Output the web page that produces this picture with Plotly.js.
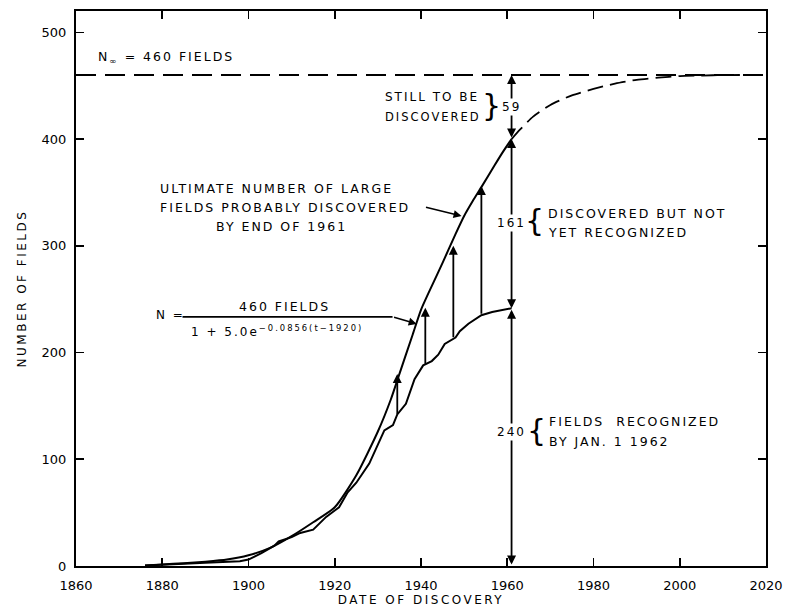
<!DOCTYPE html>
<html>
<head>
<meta charset="utf-8">
<script src="https://cdn.plot.ly/plotly-3.0.1.min.js"></script>
<style>
  html, body { margin: 0; padding: 0; background: #fff; }
  #chart { width: 785px; height: 610px; }
  .annotation-text { letter-spacing: 2px; }
  .xtitle, .ytitle { letter-spacing: 2.5px; }
</style>
</head>
<body>
<div id="chart"></div>
<script>
// Logistic curve as drawn (solid part, up to end of 1961)
const fitYears = [1876,1880,1885,1890,1895,1900,1905,1910,1915,1920,1925,1930,1933,1935,1938,1940,1942,1945,1948,1950,1952,1954,1957,1959,1961];
const fitValues = [0.5,1.5,2.5,4,6,10,17,28,41,55,85,126,156,180,216,240,258,284,311,328,342,355,375,388,400];

// Projected (dashed) part of the logistic curve
const projYears = [1961,1963,1966,1970,1975,1980,1985,1990,1995,2000,2005,2010,2020];
const projValues = [400,409,421,432,441,447,452,455.5,457.5,459,459.5,460,460];

// Fields recognized by Jan 1 1962 (actual cumulative curve)
const recYears = [1876,1880,1885,1890,1895,1898,1900,1903,1906,1907,1910,1912,1915,1918,1920,1921,1923,1925,1928,1930,1931.5,1933.5,1934.5,1936.5,1938.5,1940.5,1942.5,1944,1945.5,1948,1949,1951,1954,1956.5,1959,1961];
const recValues = [0.5,1,2,3,4,4.5,6,12,19,23,27,31,34,46,52,55,69,78,96,114,127,132,142,152,175,188,192,198,208,214,220,227,235,238,240,241.5];

// Asymptote
const nInf = 460;
const asymYears = [1860, 2020];

// Vertical arrows between recognized and ultimate curves
const arrowYears = [1934.5, 1941, 1947.5, 1954];
const arrowFrom = [141, 188, 213, 235];
const arrowTo = [180, 242, 300, 356];

// Dimension line at end of 1961
const dimYear = 1961;
const dimBounds = [0, 240, 400, 460];
const dimLabels = ["240", "161", "59"];
const dimLabelValues = [125.6, 321.5, 430];

// Axis ticks
const xTicks = [1860,1880,1900,1920,1940,1960,1980,2000,2020];
const yTicks = [0,100,200,300,400,500];

const FONT = "DejaVu Sans, sans-serif";
const black = "#000";

const traces = [
  { x: asymYears, y: [nInf, nInf], mode: "lines", line: {color: black, width: 2, dash: "20px,9px"}, hoverinfo: "skip" },
  { x: fitYears, y: fitValues, mode: "lines", line: {color: black, width: 2, shape: "spline", smoothing: 0.6}, hoverinfo: "skip" },
  { x: projYears, y: projValues, mode: "lines", line: {color: black, width: 1.8, dash: "16px,7px", shape: "spline", smoothing: 0.6}, hoverinfo: "skip" },
  { x: recYears, y: recValues, mode: "lines", line: {color: black, width: 2}, hoverinfo: "skip" }
];

const ann = [];
function txt(x, y, text, opts) {
  ann.push(Object.assign({x: x, y: y, xref: "x", yref: "y", text: text, showarrow: false,
    xanchor: "left", yanchor: "middle", font: {family: FONT, size: 12.5, color: black}}, opts || {}));
}

// arrows between curves
arrowYears.forEach((yr, i) => {
  ann.push({x: yr, y: arrowTo[i], ax: yr, ay: arrowFrom[i], xref: "x", yref: "y", axref: "x", ayref: "y",
    text: "", showarrow: true, arrowhead: 2, arrowsize: 1, arrowwidth: 1.8, arrowcolor: black, standoff: 0});
});
// dimension line
for (let i = 0; i < dimBounds.length - 1; i++) {
  ann.push({x: dimYear, y: dimBounds[i + 1], ax: dimYear, ay: dimBounds[i], xref: "x", yref: "y", axref: "x", ayref: "y",
    text: "", showarrow: true, arrowhead: 2, startarrowhead: 2, arrowside: "end+start", arrowsize: 1, startarrowsize: 1,
    arrowwidth: 1.8, arrowcolor: black, standoff: 0, startstandoff: 0});
}
dimLabels.forEach((t, i) => {
  txt(dimYear, dimLabelValues[i], t,
    {xanchor: "center", bgcolor: "#fff", borderpad: 1, font: {family: FONT, size: 12, color: black}});
});

// N infinity
txt(1864.75, 476, "N<sub>∞</sub> = 460 FIELDS");

// Still to be discovered
txt(1931.1, 439.5, "STILL TO BE", {font: {family: FONT, size: 12, color: black}});
txt(1931.1, 420.8, "DISCOVERED", {font: {family: FONT, size: 11.5, color: black}});
txt(1956.6, 431, "}", {xanchor: "center", font: {family: FONT, size: 30, color: black}});

// Ultimate number
txt(1878.9, 353.3, "ULTIMATE NUMBER OF LARGE");
txt(1878.9, 335.5, "FIELDS PROBABLY DISCOVERED");
txt(1892.1, 317.7, "BY END OF 1961");
ann.push({x: 1949.4, y: 328, ax: 1940.8, ay: 336.4, xref: "x", yref: "y", axref: "x", ayref: "y",
  text: "", showarrow: true, arrowhead: 2, arrowsize: 1, arrowwidth: 1.6, arrowcolor: black, standoff: 0});

// Discovered but not yet recognized
txt(1966.6, 323.3, "{", {xanchor: "center", font: {family: FONT, size: 30, color: black}});
txt(1968.9, 330.6, "DISCOVERED BUT NOT");
txt(1968.9, 312.4, "YET RECOGNIZED");

// Fields recognized
txt(1967.0, 127, "{", {xanchor: "center", font: {family: FONT, size: 30, color: black}});
txt(1969.3, 135.2, "FIELDS  RECOGNIZED");
txt(1969.3, 116.5, "BY JAN. 1 1962");

// Formula
txt(1878.2, 235.2, "N =", {font: {family: FONT, size: 12, color: black}});
txt(1908.35, 243, "460 FIELDS", {xanchor: "center"});
txt(1886.3, 220, "1 + 5.0e<sup>−0.0856(t−1920)</sup>", {font: {family: FONT, size: 12, color: black}});
ann.push({x: 1939.0, y: 226.8, ax: 1933.4, ay: 233.4, xref: "x", yref: "y", axref: "x", ayref: "y",
  text: "", showarrow: true, arrowhead: 2, arrowsize: 1, arrowwidth: 1.6, arrowcolor: black, standoff: 0});

const shapes = [
  {type: "line", xref: "x", yref: "y", x0: 1884.7, x1: 1933.4, y0: 233.4, y1: 233.4, line: {color: black, width: 1.8}}
];

const axisCommon = {
  showgrid: false, zeroline: false, showline: true, linecolor: black, linewidth: 2,
  mirror: "ticks", ticks: "inside", ticklen: 8, tickwidth: 1.6, tickcolor: black,
  tickfont: {family: FONT, size: 13, color: black}
};

const layout = {
  width: 785, height: 610,
  margin: {l: 76, r: 19, t: 11, b: 44},
  paper_bgcolor: "#fff", plot_bgcolor: "#fff",
  showlegend: false,
  xaxis: Object.assign({}, axisCommon, {
    range: [1860, 2020], tickvals: xTicks, ticktext: xTicks.map(String), ticklabelstandoff: 6,
    title: {text: "DATE OF DISCOVERY", font: {family: FONT, size: 12, color: black}, standoff: 4}
  }),
  yaxis: Object.assign({}, axisCommon, {
    range: [0, 520], tickvals: yTicks, ticktext: yTicks.map(String), ticklabelstandoff: 5,
    title: {text: "NUMBER OF FIELDS", font: {family: FONT, size: 12, color: black}, standoff: 12}
  }),
  annotations: ann,
  shapes: shapes
};

Plotly.newPlot("chart", traces, layout, {displayModeBar: false, staticPlot: true});
</script>
</body>
</html>
